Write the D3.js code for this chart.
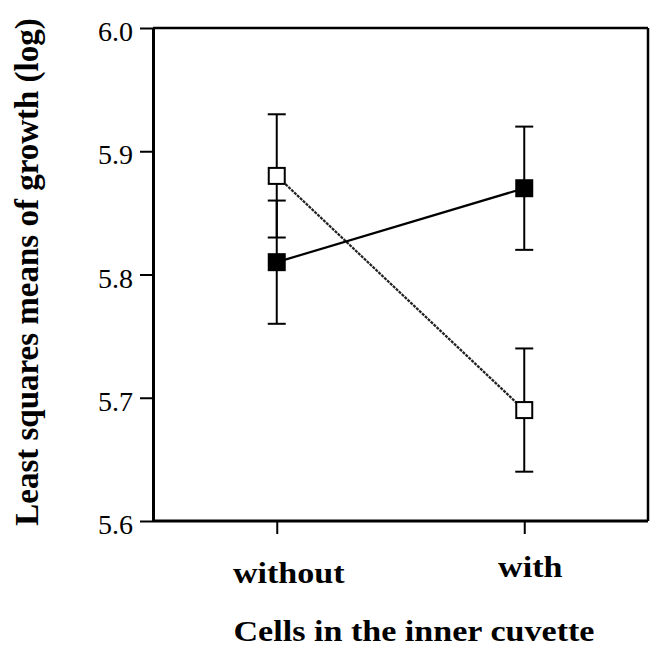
<!DOCTYPE html>
<html>
<head>
<meta charset="utf-8">
<script src="https://cdn.jsdelivr.net/npm/d3@7"></script>
<style>
  html, body { margin: 0; padding: 0; background: #fff; }
  svg { display: block; }
  text { font-family: "Liberation Serif", "Times New Roman", serif; fill: #000; }
</style>
</head>
<body>
<svg id="chart" width="650" height="647"></svg>
<script>
// ---- data ----
const categories = ["without", "with"];
const filledMeans = [5.81, 5.87];
const filledLower = [5.76, 5.82];
const filledUpper = [5.86, 5.92];
const openMeans = [5.88, 5.69];
const openLower = [5.83, 5.64];
const openUpper = [5.93, 5.74];
const yTicks = [5.6, 5.7, 5.8, 5.9, 6.0];
const yTitle = "Least squares means of growth (log)";
const xTitle = "Cells in the inner cuvette";

// ---- layout ----
const mLeft = 153, mRight = 648, mTop = 28, mBottom = 521;
const svg = d3.select("#chart");

const x = d3.scalePoint().domain(categories).range([mLeft, mRight]).padding(0.5);
const y = d3.scaleLinear().domain([5.6, 6.0]).range([mBottom, mTop]);

// frame (top and right)
svg.append("line").attr("x1", mLeft).attr("x2", mRight).attr("y1", mTop).attr("y2", mTop)
  .attr("stroke", "#000").attr("stroke-width", 2.5);
svg.append("line").attr("x1", mRight).attr("x2", mRight).attr("y1", mTop).attr("y2", mBottom)
  .attr("stroke", "#000").attr("stroke-width", 2.5);

// y axis
const yAxis = svg.append("g").attr("transform", `translate(${mLeft},0)`)
  .call(d3.axisLeft(y).tickValues(yTicks).tickFormat(d3.format(".1f"))
    .tickSize(13).tickSizeOuter(0).tickPadding(7))
  .attr("font-family", "'Liberation Serif', serif")
  .attr("font-size", 28);
yAxis.select(".domain").attr("stroke-width", 3);
yAxis.selectAll(".tick line").attr("stroke-width", 2);
yAxis.selectAll(".tick text").attr("dy", "0.45em");

// x axis
const xAxis = svg.append("g").attr("transform", `translate(0,${mBottom})`)
  .call(d3.axisBottom(x).tickSize(13).tickSizeOuter(0).tickFormat(""));
xAxis.select(".domain").attr("stroke-width", 3)
  .attr("d", `M${mLeft},0H${mRight}`);
xAxis.selectAll(".tick line").attr("stroke-width", 2);

// x category labels
const labelOffsets = { "without": [12, 62], "with": [6, 56] };
svg.selectAll(".xlab").data(categories).enter().append("text")
  .attr("class", "xlab")
  .attr("text-anchor", "middle")
  .attr("font-weight", "bold")
  .attr("font-size", 31)
  .attr("transform", d => `translate(${x(d) + labelOffsets[d][0]},${mBottom + labelOffsets[d][1]}) scale(1.1,0.95)`)
  .text(d => d);

// axis titles
svg.append("text")
  .attr("text-anchor", "middle")
  .attr("font-weight", "bold")
  .attr("font-size", 31)
  .attr("transform", `translate(414,641) scale(1.1,0.95)`)
  .text(xTitle);

svg.append("text")
  .attr("text-anchor", "middle")
  .attr("font-weight", "bold")
  .attr("font-size", 33)
  .attr("transform", `translate(38,272) rotate(-90)`)
  .text(yTitle);

// series
const series = [
  { means: openMeans, lower: openLower, upper: openUpper, fill: "#fff", dash: "3,1", lineColor: "#222" },
  { means: filledMeans, lower: filledLower, upper: filledUpper, fill: "#000", dash: null, lineColor: "#000" }
];

const line = d3.line().x(d => x(d.cat)).y(d => y(d.v));

series.forEach(s => {
  const pts = categories.map((c, i) => ({ cat: c, v: s.means[i] }));
  svg.append("path").datum(pts).attr("d", line)
    .attr("fill", "none").attr("stroke", s.lineColor).attr("stroke-width", 2.2)
    .attr("stroke-dasharray", s.dash);
});

series.forEach(s => {
  categories.forEach((c, i) => {
    const cx = x(c);
    const g = svg.append("g").attr("stroke", "#000").attr("stroke-width", 2);
    g.append("line").attr("x1", cx).attr("x2", cx).attr("y1", y(s.lower[i])).attr("y2", y(s.upper[i]));
    g.append("line").attr("x1", cx - 9).attr("x2", cx + 9).attr("y1", y(s.lower[i])).attr("y2", y(s.lower[i]));
    g.append("line").attr("x1", cx - 9).attr("x2", cx + 9).attr("y1", y(s.upper[i])).attr("y2", y(s.upper[i]));
  });
});

series.forEach(s => {
  categories.forEach((c, i) => {
    svg.append("rect")
      .attr("x", x(c) - 8).attr("y", y(s.means[i]) - 8)
      .attr("width", 16).attr("height", 16)
      .attr("fill", s.fill).attr("stroke", "#000").attr("stroke-width", 2);
  });
});
</script>
</body>
</html>
